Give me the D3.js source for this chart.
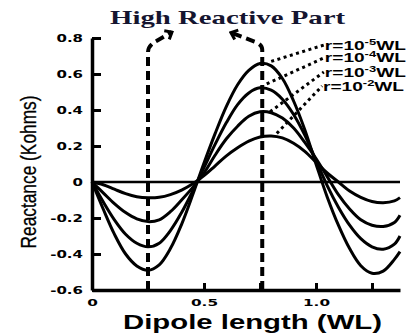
<!DOCTYPE html>
<html>
<head>
<meta charset="utf-8">
<script src="https://cdn.jsdelivr.net/npm/d3@7"></script>
<style>
body { margin: 0; background: #fff; }
svg { display: block; }
</style>
</head>
<body>
<div id="chart"></div>
<script>
// dipole length in wavelengths
var lengths = [0, 0.05, 0.1, 0.15, 0.2, 0.25, 0.3, 0.35, 0.4, 0.45, 0.5, 0.55, 0.6, 0.65, 0.7,
    0.75, 0.8, 0.85, 0.9, 0.95, 1.0, 1.05, 1.1, 1.15, 1.2, 1.25, 1.3, 1.35, 1.375];

// reactance (kOhms) for each wire radius
var reactR5 = [0, -0.15, -0.29, -0.40, -0.466, -0.49, -0.46, -0.37, -0.235, -0.07, 0.105, 0.27, 0.42, 0.54, 0.62,
    0.658, 0.645, 0.575, 0.45, 0.29, 0.10, -0.083, -0.24, -0.37, -0.465, -0.507, -0.495, -0.43, -0.387];
var reactR4 = [0, -0.11, -0.21, -0.29, -0.34, -0.36, -0.34, -0.27, -0.17, -0.05, 0.08, 0.21, 0.33, 0.43, 0.495,
    0.523, 0.51, 0.46, 0.375, 0.26, 0.12, -0.02, -0.14, -0.24, -0.315, -0.36, -0.373, -0.345, -0.30];
var reactR3 = [0, -0.06, -0.12, -0.17, -0.205, -0.22, -0.21, -0.165, -0.10, -0.03, 0.05, 0.15, 0.24, 0.31, 0.365,
    0.39, 0.385, 0.355, 0.30, 0.22, 0.13, 0.03, -0.07, -0.15, -0.21, -0.24, -0.247, -0.225, -0.185];
var reactR2 = [0, -0.015, -0.04, -0.065, -0.082, -0.088, -0.085, -0.07, -0.045, -0.01, 0.035, 0.09, 0.145, 0.19, 0.227,
    0.25, 0.256, 0.245, 0.215, 0.17, 0.11, 0.05, 0.0, -0.05, -0.085, -0.108, -0.115, -0.105, -0.087];

var radiusExp = ['-5', '-4', '-3', '-2'];

var yTicks = [-0.6, -0.4, -0.2, 0, 0.2, 0.4, 0.6, 0.8];
var yTickLabels = ['-0.6', '-0.4', '-0.2', '0', '0.2', '0.4', '0.6', '0.8'];
var xTicks = [0.25, 0.5, 0.75, 1.0, 1.25];
var xLabelVals = [0, 0.5, 1.0];
var xLabelText = ['0', '0.5', '1.0'];

// quarter wave markers
var markLengths = [0.25, 0.76];

// leader lines: curve point -> label
var leaderFrom = [[0.80, 0.67], [0.78, 0.545], [0.795, 0.39], [0.825, 0.27]];
var leaderTo = [[1.035, 0.761], [1.035, 0.689], [1.035, 0.611], [1.027, 0.533]];

var width = 408, height = 333;
var margin = {top: 38, right: 8, bottom: 43, left: 92};

var svg = d3.select('#chart').append('svg')
    .attr('width', width)
    .attr('height', height);

var x = d3.scaleLinear().domain([0, 1.375]).range([margin.left, width - margin.right]);
var y = d3.scaleLinear().domain([-0.6, 0.8]).range([height - margin.bottom, margin.top]);

// title
svg.append('text')
    .attr('x', 227.5)
    .attr('y', 24)
    .attr('text-anchor', 'middle')
    .attr('textLength', 235)
    .attr('lengthAdjust', 'spacingAndGlyphs')
    .style('font-family', '"Liberation Serif", "Times New Roman", serif')
    .style('font-weight', 'bold')
    .style('font-size', '19px')
    .style('fill', '#151530')
    .text('High Reactive Part');

// zero line
svg.append('line')
    .attr('x1', x(0)).attr('x2', x(1.375))
    .attr('y1', y(0)).attr('y2', y(0))
    .style('stroke', '#000')
    .style('stroke-width', 2.5);

// curves
var line = d3.line()
    .x((d, i) => x(lengths[i]))
    .y(d => y(d))
    .curve(d3.curveCatmullRom);

svg.selectAll('path.curve')
    .data([reactR5, reactR4, reactR3, reactR2])
    .enter()
    .append('path')
    .attr('class', 'curve')
    .attr('d', line)
    .style('fill', 'none')
    .style('stroke', '#000')
    .style('stroke-width', 3);

// y axis
var yAxis = svg.append('g')
    .attr('transform', `translate(${x(0)},0)`)
    .call(d3.axisLeft(y)
        .tickValues(yTicks)
        .tickSize(-9)
        .tickSizeOuter(0)
        .tickPadding(9)
        .tickFormat((d, i) => yTickLabels[i]));

yAxis.select('.domain').style('stroke-width', 3.5);
yAxis.selectAll('.tick line').style('stroke-width', 3);
yAxis.selectAll('text')
    .attr('x', -6)
    .attr('transform', 'scale(1.5,1)')
    .style('font-family', '"DejaVu Sans", sans-serif')
    .style('font-weight', 'bold')
    .style('font-size', '10px')
    .style('fill', '#000');

// x axis ticks
var xAxis = svg.append('g')
    .attr('transform', `translate(0,${y(-0.6)})`)
    .call(d3.axisBottom(x)
        .tickValues(xTicks)
        .tickSize(-7)
        .tickSizeOuter(0)
        .tickFormat(''));

xAxis.select('.domain').style('stroke-width', 3.5);
xAxis.selectAll('.tick line').style('stroke-width', 3);

// x axis labels
var xLabels = svg.append('g')
    .attr('transform', `translate(0,${y(-0.6)})`)
    .call(d3.axisBottom(x)
        .tickValues(xLabelVals)
        .tickSize(0)
        .tickPadding(10)
        .tickFormat((d, i) => xLabelText[i]));

xLabels.select('.domain').remove();
xLabels.selectAll('text')
    .attr('transform', 'scale(1.7,1)')
    .style('font-family', '"DejaVu Sans", sans-serif')
    .style('font-weight', 'bold')
    .style('font-size', '9px')
    .style('fill', '#000');

svg.append('text')
    .attr('x', 252.5)
    .attr('y', 329)
    .attr('text-anchor', 'middle')
    .attr('textLength', 259)
    .attr('lengthAdjust', 'spacingAndGlyphs')
    .style('font-family', '"Liberation Sans", Arial, sans-serif')
    .style('font-weight', 'bold')
    .style('font-size', '20px')
    .text('Dipole length (WL)');

svg.append('text')
    .attr('transform', 'translate(36,172) rotate(-90)')
    .attr('text-anchor', 'middle')
    .attr('textLength', 153)
    .attr('lengthAdjust', 'spacingAndGlyphs')
    .style('font-family', '"Liberation Sans Narrow", "Arial Narrow", "Liberation Sans", sans-serif')
    .style('font-size', '22px')
    .style('stroke', '#000')
    .style('stroke-width', 0.3)
    .text('Reactance (Kohms)');

// arrow head
svg.append('defs').append('marker')
    .attr('id', 'arrow')
    .attr('markerUnits', 'userSpaceOnUse')
    .attr('viewBox', '-9 -7 11 14')
    .attr('markerWidth', 11)
    .attr('markerHeight', 14)
    .attr('refX', 0)
    .attr('refY', 0)
    .attr('orient', 'auto')
    .append('path')
    .attr('d', 'M-6,-5L0,0L-6,5')
    .style('fill', 'none')
    .style('stroke', '#000')
    .style('stroke-width', 3);

// dashed quarter wave lines bending to the title
var xl = x(markLengths[0]), xr = x(markLengths[1]);
var dashPaths = [
    `M${xl},${y(-0.6)}V${y(0.72)}Q${xl},${y(0.76)} ${x(0.29)},${y(0.785)}L${x(0.357)},${y(0.833)}`,
    `M${xr},${y(-0.6)}V${y(0.735)}Q${xr},${y(0.765)} ${x(0.725)},${y(0.78)}L${x(0.62)},${y(0.83)}`
];

svg.selectAll('path.mark')
    .data(dashPaths)
    .enter()
    .append('path')
    .attr('class', 'mark')
    .attr('d', d => d)
    .attr('marker-end', 'url(#arrow)')
    .style('fill', 'none')
    .style('stroke', '#000')
    .style('stroke-width', 4)
    .style('stroke-dasharray', '9,5');

// leader lines
svg.selectAll('line.leader')
    .data(leaderFrom)
    .enter()
    .append('line')
    .attr('class', 'leader')
    .attr('x1', d => x(d[0]))
    .attr('y1', d => y(d[1]))
    .attr('x2', (d, i) => x(leaderTo[i][0]))
    .attr('y2', (d, i) => y(leaderTo[i][1]))
    .style('stroke', '#000')
    .style('stroke-width', 3)
    .style('stroke-dasharray', '3,3.5');

var legend = svg.selectAll('text.rlabel')
    .data(radiusExp)
    .enter()
    .append('text')
    .attr('class', 'rlabel')
    .attr('x', (d, i) => x(leaderTo[i][0]) + 1)
    .attr('y', (d, i) => y(leaderTo[i][1]) + 4.5)
    .attr('textLength', 81)
    .attr('lengthAdjust', 'spacingAndGlyphs')
    .style('font-family', '"Liberation Sans", Arial, sans-serif')
    .style('font-weight', 'bold')
    .style('font-size', '12.5px');

legend.append('tspan').text('r=10');
legend.append('tspan').attr('dy', -5).style('font-size', '8.5px').text(d => d);
legend.append('tspan').attr('dy', 5).text('WL');
</script>
</body>
</html>
